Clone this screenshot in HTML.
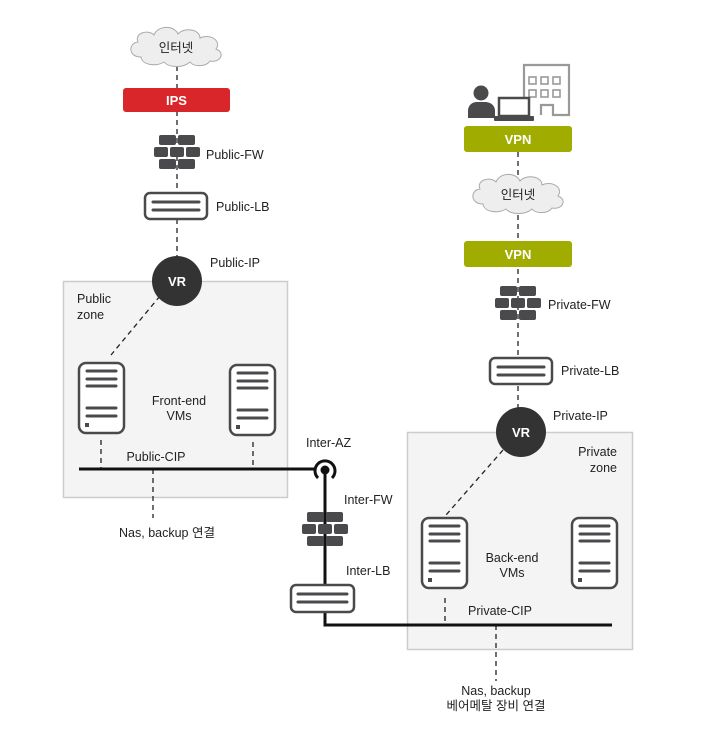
<!DOCTYPE html>
<html><head><meta charset="utf-8"><style>
html,body{margin:0;padding:0;background:#fff;}
svg{display:block}
text{font-family:"Liberation Sans","Noto Sans CJK KR",sans-serif;font-size:12.5px;fill:#222;}
</style></head><body>
<svg width="720" height="743" viewBox="0 0 720 743" xmlns="http://www.w3.org/2000/svg">
<defs>
<g id="fw" fill="#4a4a4c">
<rect x="-18" y="-18" width="17" height="10" rx="2"/><rect x="1" y="-18" width="17" height="10" rx="2"/>
<rect x="-23" y="-6" width="14" height="10" rx="2"/><rect x="-7" y="-6" width="14" height="10" rx="2"/><rect x="9" y="-6" width="14" height="10" rx="2"/>
<rect x="-18" y="6" width="17" height="10" rx="2"/><rect x="1" y="6" width="17" height="10" rx="2"/>
</g>
<g id="srv">
<rect x="0" y="0" width="45" height="70" rx="7" fill="#fff" stroke="#4a4a4c" stroke-width="2.5"/>
<g stroke="#4a4a4c" stroke-width="3" stroke-linecap="round">
<line x1="8" y1="8" x2="37" y2="8"/><line x1="8" y1="16" x2="37" y2="16"/><line x1="8" y1="23" x2="37" y2="23"/>
<line x1="8" y1="45" x2="37" y2="45"/><line x1="8" y1="53" x2="37" y2="53"/>
</g>
<rect x="6" y="60" width="4" height="4" fill="#4a4a4c"/>
</g>
<g id="cloud">
<path d="M-35,10 C-48,10 -48,-4 -38,-5 C-42,-14 -28,-18 -22,-12 C-18,-22 -2,-22 2,-13 C8,-20 24,-18 24,-9 C34,-14 46,-6 40,2 C50,6 44,16 34,14 C30,20 18,20 14,15 C6,22 -8,20 -12,15 C-20,20 -34,18 -35,10 Z" fill="#eeeeee" stroke="#aaa" stroke-width="1"/>
</g>
</defs>

<rect x="63.5" y="281.5" width="224" height="216" fill="#f4f4f4" stroke="#ccc" stroke-width="1.5"/>
<rect x="407.5" y="432.5" width="225" height="217" fill="#f4f4f4" stroke="#ccc" stroke-width="1.5"/>

<g stroke="#222" stroke-width="1.3" stroke-dasharray="5,4" fill="none">
<line x1="177" y1="66" x2="177" y2="262"/>
<line x1="518" y1="152" x2="518" y2="408"/>
<line x1="160" y1="296" x2="111" y2="355"/>
<line x1="503" y1="450" x2="446" y2="515"/>
<line x1="101" y1="440" x2="101" y2="469"/>
<line x1="253" y1="442" x2="253" y2="469"/>
<line x1="153" y1="469" x2="153" y2="518"/>
<line x1="445" y1="598" x2="445" y2="625"/>
<line x1="496" y1="625" x2="496" y2="681"/>
</g>

<use href="#cloud" x="176" y="47"/>
<text x="176" y="52" text-anchor="middle" font-size="12">인터넷</text>
<rect x="123" y="88" width="107" height="24" rx="3" fill="#d9262a"/>
<text x="176.5" y="105" text-anchor="middle" style="fill:#fff;font-weight:bold;font-size:13px">IPS</text>
<use href="#fw" x="177" y="153"/>
<text x="206" y="159">Public-FW</text>
<rect x="145" y="193" width="62" height="26" rx="5" fill="#fff" stroke="#4a4a4c" stroke-width="2.5"/>
<line x1="153" y1="202" x2="199" y2="202" stroke="#4a4a4c" stroke-width="3" stroke-linecap="round"/>
<line x1="153" y1="210" x2="199" y2="210" stroke="#4a4a4c" stroke-width="3" stroke-linecap="round"/>
<text x="216" y="211">Public-LB</text>
<circle cx="177" cy="281" r="25" fill="#333"/>
<text x="177" y="286" text-anchor="middle" style="fill:#fff;font-weight:bold;font-size:13px">VR</text>
<text x="210" y="267">Public-IP</text>
<text x="77" y="303">Public</text>
<text x="77" y="319">zone</text>
<use href="#srv" x="79" y="363"/>
<use href="#srv" x="230" y="365"/>
<text x="179" y="405" text-anchor="middle">Front-end</text>
<text x="179" y="420" text-anchor="middle">VMs</text>
<line x1="79" y1="469" x2="315" y2="469" stroke="#111" stroke-width="3"/>
<text x="156" y="461" text-anchor="middle">Public-CIP</text>
<text x="167" y="537" text-anchor="middle">Nas, backup 연결</text>

<line x1="325" y1="470" x2="325" y2="625" stroke="#111" stroke-width="3"/>
<line x1="323.5" y1="625" x2="612" y2="625" stroke="#111" stroke-width="3"/>
<path d="M318,478 A10,10 0 1 1 332,478" fill="none" stroke="#111" stroke-width="3"/>
<circle cx="325" cy="470" r="4.5" fill="#111"/>
<text x="306" y="447">Inter-AZ</text>
<use href="#fw" x="325" y="530"/>
<text x="344" y="504">Inter-FW</text>
<rect x="291" y="585" width="63" height="27" rx="5" fill="#fff" stroke="#4a4a4c" stroke-width="2.5"/>
<line x1="298" y1="594" x2="347" y2="594" stroke="#4a4a4c" stroke-width="3" stroke-linecap="round"/>
<line x1="298" y1="602" x2="347" y2="602" stroke="#4a4a4c" stroke-width="3" stroke-linecap="round"/>
<text x="346" y="575">Inter-LB</text>

<path d="M524,116 L524,65 L569,65 L569,115 L553,115 L553,105 L541,105 L541,115" fill="none" stroke="#999" stroke-width="2.2"/>
<g fill="none" stroke="#999" stroke-width="1.6">
<rect x="529" y="77" width="7" height="7"/><rect x="541" y="77" width="7" height="7"/><rect x="553" y="77" width="7" height="7"/>
<rect x="529" y="90" width="7" height="7"/><rect x="541" y="90" width="7" height="7"/><rect x="553" y="90" width="7" height="7"/>
</g>
<g fill="#4a4a4c">
<circle cx="481" cy="93" r="7.5"/>
<path d="M468,118 L468,110 Q469,103 476,102 L486,102 Q494,103 495,110 L495,118 Z"/>
<rect x="494" y="116" width="40" height="5" rx="1"/>
</g>
<rect x="499" y="98" width="30" height="18" fill="#fff" stroke="#4a4a4c" stroke-width="2.5"/>
<rect x="464" y="126" width="108" height="26" rx="3" fill="#a0ad00"/>
<text x="518" y="144" text-anchor="middle" style="fill:#fff;font-weight:bold;font-size:13px">VPN</text>
<use href="#cloud" x="518" y="194"/>
<text x="518" y="199" text-anchor="middle" font-size="12">인터넷</text>
<rect x="464" y="241" width="108" height="26" rx="3" fill="#a0ad00"/>
<text x="518" y="259" text-anchor="middle" style="fill:#fff;font-weight:bold;font-size:13px">VPN</text>
<use href="#fw" x="518" y="304"/>
<text x="548" y="309">Private-FW</text>
<rect x="490" y="358" width="62" height="26" rx="5" fill="#fff" stroke="#4a4a4c" stroke-width="2.5"/>
<line x1="498" y1="367" x2="544" y2="367" stroke="#4a4a4c" stroke-width="3" stroke-linecap="round"/>
<line x1="498" y1="375" x2="544" y2="375" stroke="#4a4a4c" stroke-width="3" stroke-linecap="round"/>
<text x="561" y="375">Private-LB</text>
<circle cx="521" cy="432" r="25" fill="#333"/>
<text x="521" y="437" text-anchor="middle" style="fill:#fff;font-weight:bold;font-size:13px">VR</text>
<text x="553" y="420">Private-IP</text>
<text x="617" y="456" text-anchor="end">Private</text>
<text x="617" y="472" text-anchor="end">zone</text>
<use href="#srv" x="422" y="518"/>
<use href="#srv" x="572" y="518"/>
<text x="512" y="562" text-anchor="middle">Back-end</text>
<text x="512" y="577" text-anchor="middle">VMs</text>
<text x="500" y="615" text-anchor="middle">Private-CIP</text>
<text x="496" y="695" text-anchor="middle">Nas, backup</text>
<text x="496" y="710" text-anchor="middle">베어메탈 장비 연결</text>
</svg>
</body></html>
